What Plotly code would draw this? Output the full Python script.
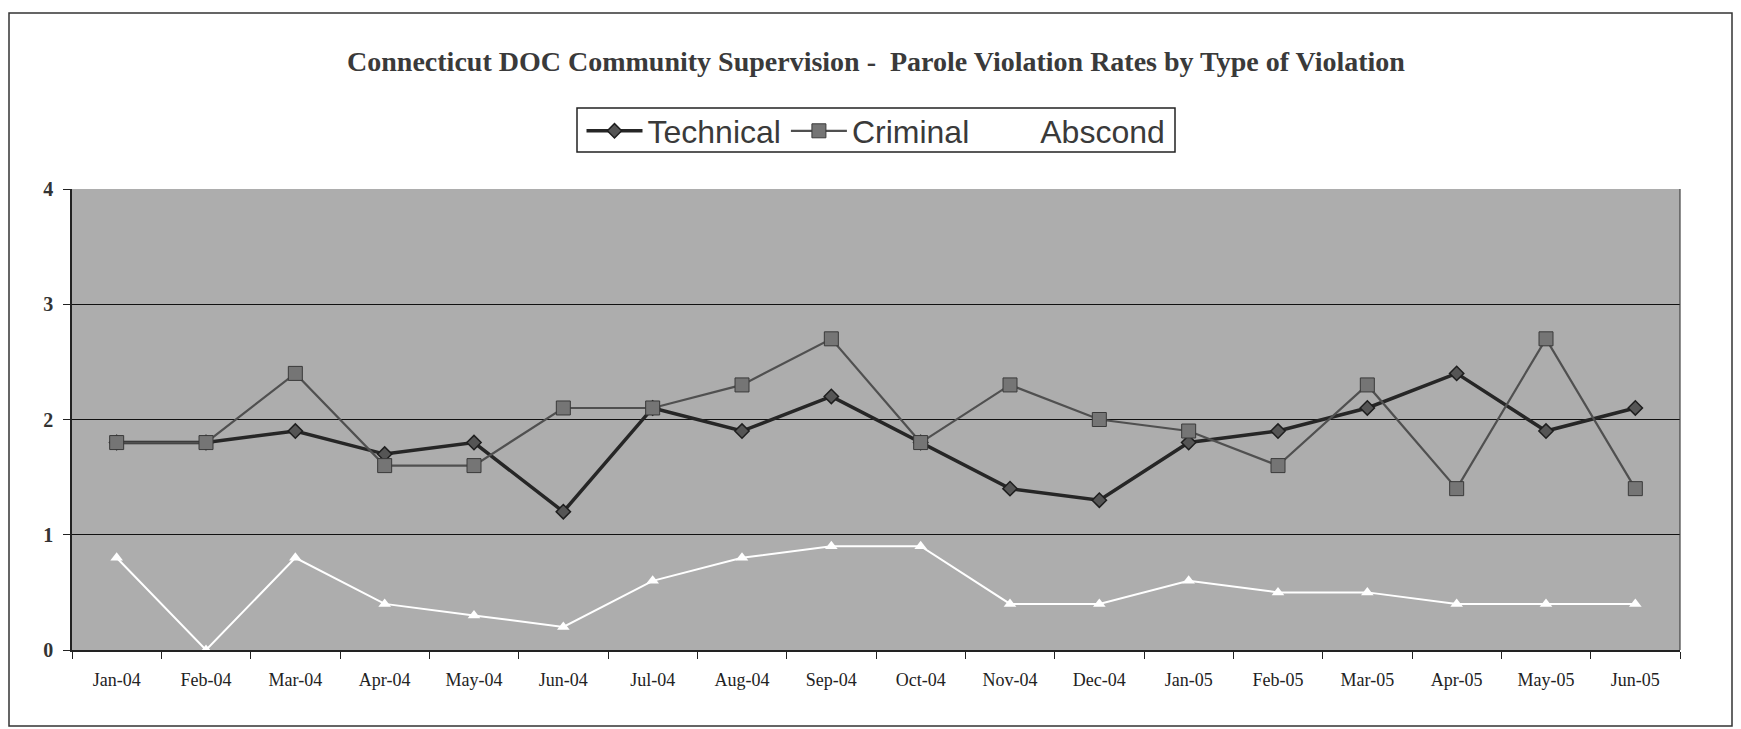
import plotly.graph_objects as go

months = ["Jan-04", "Feb-04", "Mar-04", "Apr-04", "May-04", "Jun-04", "Jul-04", "Aug-04", "Sep-04",
          "Oct-04", "Nov-04", "Dec-04", "Jan-05", "Feb-05", "Mar-05", "Apr-05", "May-05", "Jun-05"]
technical = [1.8, 1.8, 1.9, 1.7, 1.8, 1.2, 2.1, 1.9, 2.2, 1.8, 1.4, 1.3, 1.8, 1.9, 2.1, 2.4, 1.9, 2.1]
criminal = [1.8, 1.8, 2.4, 1.6, 1.6, 2.1, 2.1, 2.3, 2.7, 1.8, 2.3, 2.0, 1.9, 1.6, 2.3, 1.4, 2.7, 1.4]
abscond = [0.8, 0.0, 0.8, 0.4, 0.3, 0.2, 0.6, 0.8, 0.9, 0.9, 0.4, 0.4, 0.6, 0.5, 0.5, 0.4, 0.4, 0.4]
y_ticks = [0, 1, 2, 3, 4]

# page body has an 8px margin; work in page pixels and subtract it
OFF = 8
W, H = 1741 - OFF, 729 - OFF
L, R, T, B = 72 - OFF, 1680 - OFF, 189 - OFF, 650 - OFF

fig = go.Figure()
fig.add_trace(go.Scatter(
    x=months, y=technical, name="Technical", mode="lines+markers",
    line=dict(color="#262626", width=3.5),
    marker=dict(symbol="diamond", size=11, color="#555555", line=dict(color="#1e1e1e", width=1.5)),
))
fig.add_trace(go.Scatter(
    x=months, y=criminal, name="Criminal", mode="lines+markers",
    line=dict(color="#505050", width=2.2),
    marker=dict(symbol="square", size=14, color="#757575", line=dict(color="#3a3a3a", width=1)),
))
fig.add_trace(go.Scatter(
    x=months, y=abscond, name="Abscond", mode="lines+markers",
    line=dict(color="#ffffff", width=2),
    marker=dict(symbol="triangle-up", size=11, color="#ffffff"),
))

px_w = R - L
px_h = B - T


def pxx(x):
    return (x - OFF - L) / px_w


def pxy(y):
    return (B - (y - OFF)) / px_h


fig.update_layout(
    width=W, height=H,
    margin=dict(l=L, r=W - R, t=T, b=H - B, autoexpand=False),
    paper_bgcolor="white",
    plot_bgcolor="#adadad",
    font=dict(family="Liberation Serif, Times New Roman, serif", color="#111"),
    title=dict(
        text="<b>Connecticut DOC Community Supervision -  Parole Violation Rates by Type of Violation</b>",
        x=0.5, xref="paper", xanchor="center",
        y=1 - (61 - OFF) / H, yref="container", yanchor="middle",
        font=dict(family="Liberation Serif, Times New Roman, serif", size=28, color="#3a3a3a"),
    ),
    legend=dict(
        orientation="h",
        x=pxx(876), xanchor="center", xref="paper",
        y=pxy(131), yanchor="middle", yref="paper",
        bgcolor="rgba(0,0,0,0)", borderwidth=0,
        font=dict(family="Liberation Sans, Arial, sans-serif", size=32, color="#3a3a3a"),
        itemwidth=56,
    ),
    showlegend=True,
    xaxis=dict(
        type="category", categoryorder="array", categoryarray=months,
        tickson="boundaries", ticks="outside", ticklen=7, tickcolor="#222",
        showline=True, linecolor="#222", linewidth=1.5,
        showgrid=False, tickfont=dict(size=18, color="#222"),
        ticklabelstandoff=13,
        range=[-0.5, len(months) - 0.5],
    ),
    yaxis=dict(
        range=[0, 4], tickvals=y_ticks, ticks="outside", ticklen=7, tickcolor="#222",
        showline=True, linecolor="#222", linewidth=1.5,
        showgrid=True, gridcolor="#111", gridwidth=1.3,
        zeroline=False,
        ticklabelstandoff=6,
        tickfont=dict(size=20, color="#333", weight="bold"),
    ),
    shapes=[
        dict(type="rect", xref="paper", yref="paper",
             x0=pxx(9), x1=pxx(1732), y0=pxy(726), y1=pxy(13),
             line=dict(color="#333", width=1.5), fillcolor="rgba(0,0,0,0)", layer="below"),
        dict(type="rect", xref="paper", yref="paper",
             x0=pxx(577), x1=pxx(1175), y0=pxy(152), y1=pxy(108),
             line=dict(color="#222", width=1.5), fillcolor="white", layer="below"),
        dict(type="line", xref="paper", yref="paper",
             x0=1, x1=1, y0=0, y1=1,
             line=dict(color="#444", width=1.2), layer="above"),
    ],
)

fig.write_html("out.html")
